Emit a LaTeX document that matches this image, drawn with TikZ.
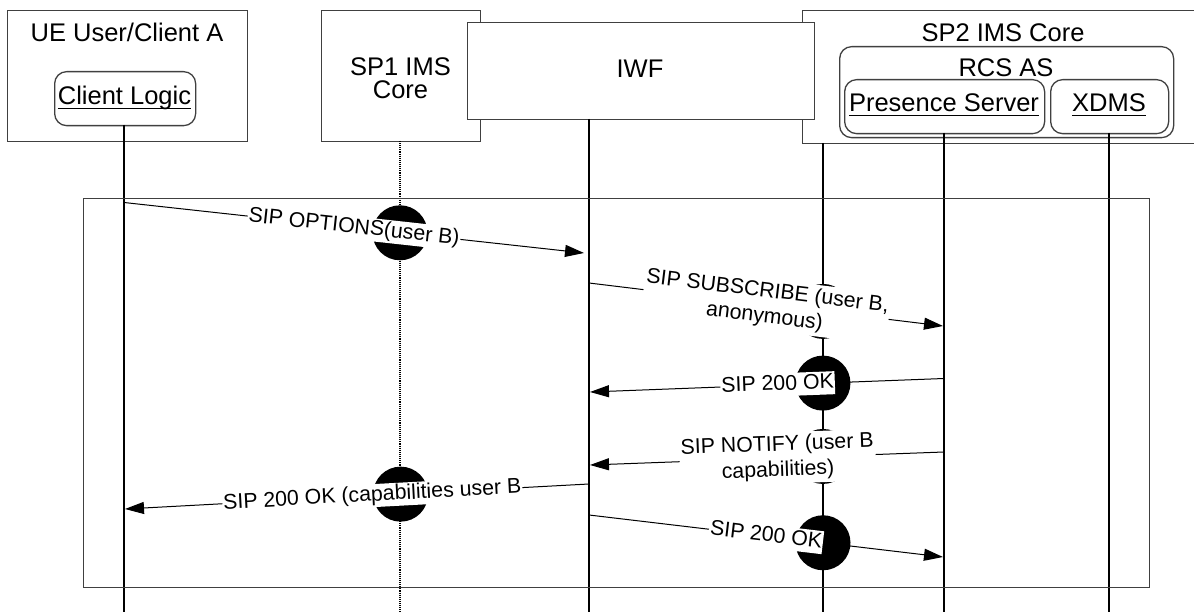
\documentclass[tikz,border=0pt]{standalone}
\usepackage{fontspec}
\setmainfont{Liberation Sans}
\usetikzlibrary{arrows.meta,calc}
\newsavebox\ulbox
\newcommand{\myul}[1]{\sbox\ulbox{#1}\rlap{\rule[-4pt]{\wd\ulbox}{1.3pt}}\usebox\ulbox}
\begin{document}
\begin{tikzpicture}[x=1pt,y=-1pt,
  box/.style={draw=black!75, line width=1.3pt, fill=white, inner sep=0pt},
  rbox/.style={box, rounded corners=12pt},
  hdr/.style={font=\fontsize{25.5}{30}\selectfont, inner sep=0pt},
  life/.style={line width=1.1pt},
  frm/.style={draw=black!75, line width=1.3pt},
  msg/.style={line width=1pt, -{Triangle[length=19pt,width=12pt]}},
  lab/.style={font=\fontsize{21.3}{25}\selectfont, fill=white, inner xsep=1pt, inner ysep=1.5pt, sloped, text height=15.5pt, text depth=4.5pt},
  labtwo/.style={font=\fontsize{21.3}{25.5}\selectfont, fill=white, inner xsep=1.5pt, inner ysep=3pt, sloped, align=center},
  jump/.style={fill=black}]
\useasboundingbox (0,0) rectangle (1194,612);

% header boxes
\node[box, minimum width=159pt, minimum height=131pt, anchor=north west] (sp1) at (321,10) {};
\node[box, minimum width=408pt, minimum height=133pt, anchor=north west] (sp2) at (802,10) {};
\node[box, minimum width=240pt, minimum height=131pt, anchor=north west] (ue) at (7,10) {};
\node[box, minimum width=347pt, minimum height=97pt, anchor=north west] (iwf) at (467,22) {};
\node[rbox, minimum width=141pt, minimum height=54pt, anchor=north west] (cl) at (54,71) {};
\node[rbox, minimum width=334pt, minimum height=91pt, anchor=north west] (rcs) at (839,46) {};
\node[rbox, minimum width=200pt, minimum height=54pt, anchor=north west] (ps) at (844,79) {};
\node[rbox, minimum width=118pt, minimum height=54pt, anchor=north west] (xdms) at (1050,79) {};

% header texts
\node[hdr, anchor=base] (uet) at (127,42) {UE User/Client A};
\node[hdr, anchor=base] (clt) at (124.5,105) {\myul{Client Logic}};
\node[hdr, anchor=base] (sp1a) at (400.5,76) {SP1 IMS};
\node[hdr, anchor=base] (sp1b) at (400.5,99) {Core};
\node[hdr, anchor=base] (iwft) at (640,78) {IWF};
\node[hdr, anchor=base] (sp2t) at (1003,42) {SP2 IMS Core};
\node[hdr, anchor=base] (rcst) at (1006,77) {RCS AS};
\node[hdr, anchor=base] (pst) at (944,112) {\myul{Presence Server}};
\node[hdr, anchor=base] (xdmst) at (1109,112) {\myul{XDMS}};

% lifeline coordinates
\coordinate (clT) at (124,125);   \coordinate (clB) at (124,612);
\coordinate (sp1T) at (400,141);  \coordinate (sp1B) at (400,612);
\coordinate (iwfT) at (589,119);  \coordinate (iwfB) at (589,612);
\coordinate (sp2T) at (823,143);  \coordinate (sp2B) at (823,612);
\coordinate (psT) at (944,133);   \coordinate (psB) at (944,612);
\coordinate (xdT) at (1109,133);  \coordinate (xdB) at (1109,612);

\draw[life] (clT) -- (clB);
\draw[life, densely dotted] (sp1T) -- (sp1B);
\draw[life] (iwfT) -- (iwfB);
\draw[life] (sp2T) -- (sp2B);
\draw[life] (psT) -- (psB);
\draw[life] (xdT) -- (xdB);

% frame
\node[frm, minimum width=1066pt, minimum height=389pt, anchor=north west, inner sep=0pt] (frame) at (83,198) {};

% message end points
\coordinate (m1s) at (124,202.5); \coordinate (m1e) at (584,253);
\coordinate (m2s) at (589,283);   \coordinate (m2e) at (943,326);
\coordinate (m3s) at (944,378.5); \coordinate (m3e) at (590,392);
\coordinate (m4s) at (944,452);   \coordinate (m4e) at (590,465);
\coordinate (m5s) at (589,484);   \coordinate (m5e) at (125,509);
\coordinate (m6s) at (589,515);   \coordinate (m6e) at (943,557);

% crossing points
\path (m1s) -- (m1e) coordinate[pos=0.6] (x1);
\path (m2s) -- (m2e) coordinate[pos=0.661] (x2);
\path (m3s) -- (m3e) coordinate[pos=0.342] (x3);
\path (m4s) -- (m4e) coordinate[pos=0.342] (x4);
\path (m5s) -- (m5e) coordinate[pos=0.406] (x5);
\path (m6s) -- (m6e) coordinate[pos=0.661] (x6);
\foreach \c in {x1,x2,x3,x4,x5,x6} \fill[jump] (\c) circle[radius=27.5pt];

% messages
\draw[msg] (m1s) -- node[lab, pos=0.5] (l1) {SIP OPTIONS(user B)} (m1e);
\draw[msg] (m2s) -- node[labtwo, pos=0.5] (l2) {SIP SUBSCRIBE (user B,\\anonymous)} (m2e);
\draw[msg] (m3s) -- node[lab, pos=0.47] (l3) {SIP 200 OK} (m3e);
\draw[msg] (m4s) -- node[labtwo, pos=0.47] (l4) {SIP NOTIFY (user B\\capabilities)} (m4e);
\draw[msg] (m5s) -- node[lab, pos=0.467] (l5) {SIP 200 OK (capabilities user B} (m5e);
\draw[msg] (m6s) -- node[lab, pos=0.5] (l6) {SIP 200 OK} (m6e);
\end{tikzpicture}
\end{document}
